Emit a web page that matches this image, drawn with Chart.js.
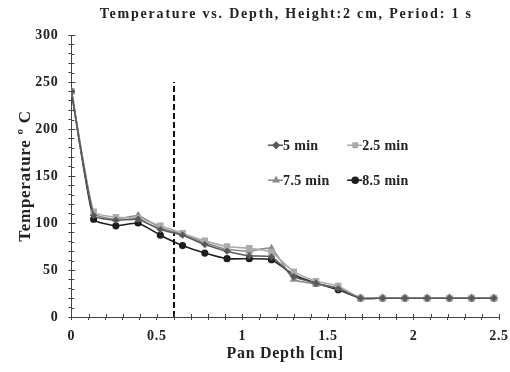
<!DOCTYPE html>
<html>
<head>
<meta charset="utf-8">
<script src="https://cdn.jsdelivr.net/npm/chart.js@4"></script>
<style>
  html, body { margin: 0; padding: 0; background: #fff; }
  #wrap { width: 510px; height: 372px; }
</style>
</head>
<body>
<div id="wrap"><canvas id="grafico"></canvas></div>
<script>
// Datos
const profundidad = [0, 0.13, 0.26, 0.39, 0.52, 0.65, 0.78, 0.91, 1.04, 1.17, 1.3, 1.43, 1.56, 1.69, 1.82, 1.95, 2.08, 2.21, 2.34, 2.47];
const temp5 = [240, 108, 103, 104, 93, 87, 77, 70, 65, 64, 43, 36, 30, 20, 20, 20, 20, 20, 20, 20];
const temp25 = [240, 112, 106, 105, 97, 89, 81, 75, 73, 69, 48, 38, 33, 20, 20, 20, 20, 20, 20, 20];
const temp75 = [240, 110, 104, 108, 95, 88, 79, 72, 70, 73, 40, 35, 31, 20, 20, 20, 20, 20, 20, 20];
const temp85 = [240, 104, 97, 100, 87, 76, 68, 62, 62, 61, 45, 36, 29, 20, 20, 20, 20, 20, 20, 20];
const etiquetas = ['5 min', '2.5 min', '7.5 min', '8.5 min'];
const lineaX = [0.6, 0.6];
const lineaY = [0, 250];
const titulo = 'Temperature vs. Depth, Height:2 cm, Period: 1 s';

const fuente = 'Liberation Serif';
const colorTexto = '#222';

const puntos = (ys) => profundidad.map((x, i) => ({ x: x, y: ys[i] }));

const serie = (label, ys, color, estilo, radio) => ({
  label: label,
  data: puntos(ys),
  borderColor: color,
  backgroundColor: color,
  borderWidth: 1.6,
  pointStyle: estilo,
  pointRadius: radio,
  tension: 0.15
});

// Espaciado de letras para todo el texto
const espaciado = {
  id: 'espaciado',
  beforeDraw(chart) {
    chart.ctx.letterSpacing = '0.7px';
  }
};

// Ticks que cruzan el eje (estilo Excel) y titulo con espaciado
const ticksCruzados = {
  id: 'ticksCruzados',
  afterDraw(chart) {
    const ctx = chart.ctx;
    const { x, y } = chart.scales;
    ctx.save();
    ctx.strokeStyle = '#444';
    ctx.lineWidth = 1;
    y.ticks.forEach(t => {
      const py = Math.round(y.getPixelForValue(t.value)) + 0.5;
      const largo = t.value % 50 === 0 ? 4 : 3;
      ctx.beginPath();
      ctx.moveTo(x.left, py);
      ctx.lineTo(x.left + largo, py);
      ctx.stroke();
    });
    x.ticks.forEach(t => {
      const px = Math.round(x.getPixelForValue(t.value)) + 0.5;
      ctx.beginPath();
      ctx.moveTo(px, y.bottom);
      ctx.lineTo(px, y.bottom - 3);
      ctx.stroke();
    });
    // titulo
    ctx.letterSpacing = '1.8px';
    ctx.font = `bold 14px "${fuente}"`;
    ctx.fillStyle = colorTexto;
    ctx.textAlign = 'center';
    ctx.textBaseline = 'middle';
    ctx.fillText(titulo, (x.left + x.right) / 2 + 1, 14);
    ctx.restore();
  }
};

// Leyenda en dos columnas dentro del area del grafico
const leyenda = {
  id: 'leyenda',
  afterDraw(chart) {
    const ctx = chart.ctx;
    const area = chart.chartArea;
    const ancho = area.right - area.left;
    const alto = area.bottom - area.top;
    ctx.save();
    ctx.letterSpacing = '0.3px';
    ctx.font = `bold 14px "${fuente}"`;
    ctx.textBaseline = 'middle';
    chart.data.datasets.slice(0, 4).forEach((ds, i) => {
      const col = i % 2;
      const fila = Math.floor(i / 2);
      const px = area.left + ancho * (0.46 + col * 0.185);
      const py = area.top + alto * (0.391 + fila * 0.124);
      ctx.strokeStyle = ds.borderColor;
      ctx.lineWidth = 1.6;
      ctx.beginPath();
      ctx.moveTo(px, py);
      ctx.lineTo(px + 15, py);
      ctx.stroke();
      ctx.fillStyle = ds.borderColor;
      Chart.helpers.drawPoint(ctx, { pointStyle: ds.pointStyle, radius: 3, borderWidth: 1 }, px + 8, py);
      ctx.fillStyle = colorTexto;
      ctx.fillText(etiquetas[i], px + 15, py + 1);
    });
    ctx.restore();
  }
};

new Chart(document.getElementById('grafico'), {
  type: 'line',
  data: {
    datasets: [
      serie('5 min', temp5, '#5a5a5a', 'rectRot', 2.5),
      serie('2.5 min', temp25, '#ababab', 'rect', 3.5),
      serie('7.5 min', temp75, '#8a8a8a', 'triangle', 3),
      serie('8.5 min', temp85, '#1e1e1e', 'circle', 2.8),
      {
        label: 'limite',
        data: lineaX.map((x, i) => ({ x: x, y: lineaY[i] })),
        borderColor: '#111',
        borderWidth: 2,
        borderDash: [6, 3],
        pointRadius: 0
      }
    ]
  },
  options: {
    responsive: true,
    maintainAspectRatio: false,
    animation: false,
    layout: { padding: { left: 15, right: 11, top: 35, bottom: 9 } },
    plugins: {
      legend: { display: false },
      tooltip: { enabled: false },
      title: { display: false }
    },
    scales: {
      x: {
        type: 'linear',
        min: 0,
        max: 2.5,
        // la etiqueta "2.5" puede llegar al borde, como en el original
        afterFit: (scale) => { scale.paddingRight = 0; },
        border: { color: '#444', width: 1 },
        grid: { display: true, drawOnChartArea: false, tickLength: 3, color: '#444' },
        ticks: {
          stepSize: 0.1,
          autoSkip: false,
          maxRotation: 0,
          color: colorTexto,
          padding: 8,
          font: { family: fuente, size: 14, weight: 'bold' },
          callback: (v) => {
            const r = Math.round(v * 10);
            return r % 5 === 0 ? String(r / 10) : '';
          }
        },
        title: {
          display: true,
          text: 'Pan Depth [cm]',
          color: colorTexto,
          font: { family: fuente, size: 16, weight: 'bold' },
          padding: { top: -9, bottom: 0 }
        }
      },
      y: {
        min: 0,
        max: 300,
        border: { color: '#444', width: 1 },
        grid: { display: true, drawOnChartArea: false, tickLength: 3, color: '#444' },
        ticks: {
          stepSize: 10,
          autoSkip: false,
          color: colorTexto,
          padding: 10,
          font: { family: fuente, size: 14, weight: 'bold' },
          callback: (v) => (v % 50 === 0 ? String(v) : '')
        },
        title: {
          display: true,
          text: 'Temperature º C',
          color: colorTexto,
          font: { family: fuente, size: 17, weight: 'bold' },
          padding: { top: 0, bottom: -8 }
        }
      }
    }
  },
  plugins: [espaciado, ticksCruzados, leyenda]
});
</script>
</body>
</html>
